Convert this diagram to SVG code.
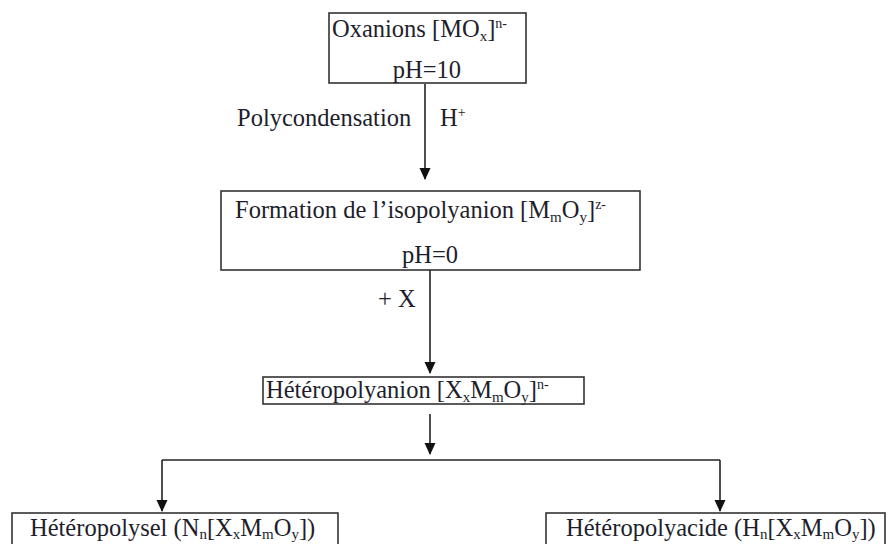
<svg xmlns="http://www.w3.org/2000/svg" width="889" height="544" viewBox="0 0 889 544">
<defs>
<style>
text{font-family:"Liberation Serif","Times New Roman",serif;font-size:24.5px;fill:#1e1e2c}
.sub{font-size:15px}
.sup{font-size:14px}
.box{fill:#fff;stroke:#333;stroke-width:1.6}
.ln{fill:none;stroke:#222;stroke-width:1.6}
</style>
<marker id="ah" viewBox="0 0 12 12" refX="11" refY="6" markerWidth="12" markerHeight="12" markerUnits="userSpaceOnUse" orient="auto">
<path d="M0,0.5 L12,6 L0,11.5 Z" fill="#111"/>
</marker>
</defs>
<rect width="889" height="544" fill="#fff"/>
<g id="connectors">
<line class="ln" x1="425" y1="84" x2="425" y2="179" marker-end="url(#ah)"/>
<line class="ln" x1="430" y1="270" x2="430" y2="373" marker-end="url(#ah)"/>
<line class="ln" x1="430" y1="414" x2="430" y2="454" marker-end="url(#ah)"/>
<polyline class="ln" points="162,460 720,460"/>
<line class="ln" x1="162" y1="460" x2="162" y2="511" marker-end="url(#ah)"/>
<line class="ln" x1="720" y1="460" x2="720" y2="511" marker-end="url(#ah)"/>
<text x="237" y="126">Polycondensation</text>
<text x="440" y="126">H<tspan class="sup" dy="-9">+</tspan></text>
<text x="378" y="307">+ X</text>
</g>
<g id="n1">
<rect class="box" x="329" y="13" width="197" height="70"/>
<text x="332" y="37">Oxanions [MO<tspan class="sub" dy="4">x</tspan><tspan dy="-4">]</tspan><tspan class="sup" dy="-9">n-</tspan></text>
<text x="427" y="78" text-anchor="middle">pH=10</text>
</g>
<g id="n2">
<rect class="box" x="221" y="191" width="419" height="79"/>
<text x="235" y="218">Formation de l’isopolyanion [M<tspan class="sub" dy="4">m</tspan><tspan dy="-4">O</tspan><tspan class="sub" dy="4">y</tspan><tspan dy="-4">]</tspan><tspan class="sup" dy="-9">z-</tspan></text>
<text x="430" y="263" text-anchor="middle">pH=0</text>
</g>
<g id="n3">
<rect class="box" x="263" y="377" width="321" height="27"/>
<text x="266" y="398">Hétéropolyanion [X<tspan class="sub" dy="4">x</tspan><tspan dy="-4">M</tspan><tspan class="sub" dy="4">m</tspan><tspan dy="-4">O</tspan><tspan class="sub" dy="4">y</tspan><tspan dy="-4">]</tspan><tspan class="sup" dy="-9">n-</tspan></text>
</g>
<g id="n4">
<rect class="box" x="12" y="513" width="326" height="40"/>
<text x="30" y="536">Hétéropolysel (N<tspan class="sub" dy="3">n</tspan><tspan dy="-3">[X</tspan><tspan class="sub" dy="3">x</tspan><tspan dy="-3">M</tspan><tspan class="sub" dy="3">m</tspan><tspan dy="-3">O</tspan><tspan class="sub" dy="3">y</tspan><tspan dy="-3">])</tspan></text>
</g>
<g id="n5">
<rect class="box" x="546" y="513" width="339" height="40"/>
<text x="566" y="536">Hétéropolyacide (H<tspan class="sub" dy="3">n</tspan><tspan dy="-3">[X</tspan><tspan class="sub" dy="3">x</tspan><tspan dy="-3">M</tspan><tspan class="sub" dy="3">m</tspan><tspan dy="-3">O</tspan><tspan class="sub" dy="3">y</tspan><tspan dy="-3">])</tspan></text>
</g>
</svg>
